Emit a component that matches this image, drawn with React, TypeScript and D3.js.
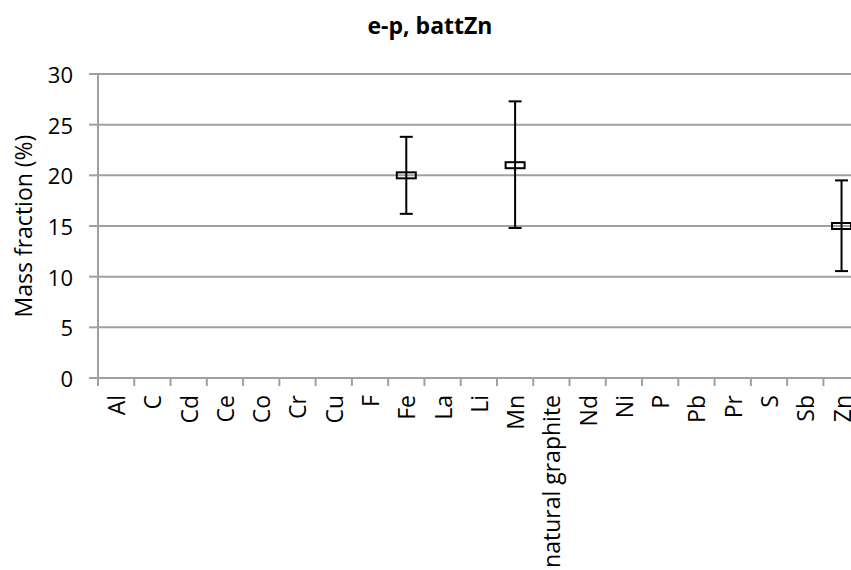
import React from "react";
import * as d3 from "d3";

const categories = ["Al","C","Cd","Ce","Co","Cr","Cu","F","Fe","La","Li","Mn","natural graphite","Nd","Ni","P","Pb","Pr","S","Sb","Zn"];
const pointCats = ["Fe","Mn","Zn"];
const pointValues = [20, 21, 15];
const errLow = [16.2, 14.8, 10.55];
const errHigh = [23.8, 27.3, 19.5];
const yTicks = [0,5,10,15,20,25,30];

export default function App() {
  const W = 851, H = 570;
  const left = 98, top = 74, bottom = 378;
  const bandW = 36.27;
  const x = d3.scaleBand().domain(categories).range([left, left + bandW * categories.length]).paddingInner(0).paddingOuter(0);
  const y = d3.scaleLinear().domain([0, 30]).range([bottom, top]);
  const font = "'Open Sans', Lato, sans-serif";
  const grid = "#a0a0a0";
  return (
    <svg width={W} height={H} style={{position:"absolute", left:0, top:0}} fontFamily={font}>
      <rect width={W} height={H} fill="#fff"/>
      <text x={430} y={34} textAnchor="middle" fontSize={23} fontWeight="bold">e-p, battZn</text>
      {yTicks.map(t => (
        <g key={t}>
          <line x1={left} x2={W} y1={y(t)} y2={y(t)} stroke={grid} strokeWidth={2}/>
          <line x1={left-9} x2={left} y1={y(t)} y2={y(t)} stroke={grid} strokeWidth={2}/>
          <text x={73} y={y(t)} textAnchor="end" dominantBaseline="central" fontSize={22}>{t}</text>
        </g>
      ))}
      <line x1={left} x2={left} y1={top} y2={bottom} stroke={grid} strokeWidth={2}/>
      {categories.map((c, i) => (
        <line key={"t"+i} x1={left + bandW*i} x2={left + bandW*i} y1={bottom} y2={bottom+8} stroke={grid} strokeWidth={2}/>
      ))}
      {categories.map(c => {
        const cx = (x(c) as number) + x.bandwidth()/2;
        return (
          <text key={c} transform={`translate(${cx},${bottom+17}) rotate(-90)`} textAnchor="end" dominantBaseline="central" fontSize={23}>{c}</text>
        );
      })}
      <text transform={`translate(23,${(top+bottom)/2}) rotate(-90)`} textAnchor="middle" dominantBaseline="central" fontSize={23}>Mass fraction (%)</text>
      {pointCats.map((c, i) => {
        const cx = (x(c) as number) + x.bandwidth()/2;
        return (
          <g key={c}>
            <line x1={cx} x2={cx} y1={y(errLow[i])} y2={y(errHigh[i])} stroke="#000" strokeWidth={2}/>
            <line x1={cx-6.5} x2={cx+6.5} y1={y(errLow[i])} y2={y(errLow[i])} stroke="#000" strokeWidth={2}/>
            <line x1={cx-6.5} x2={cx+6.5} y1={y(errHigh[i])} y2={y(errHigh[i])} stroke="#000" strokeWidth={2}/>
            <rect x={cx-9.5} y={y(pointValues[i])-3} width={19} height={6} fill="none" stroke="#000" strokeWidth={2}/>
          </g>
        );
      })}
    </svg>
  );
}
